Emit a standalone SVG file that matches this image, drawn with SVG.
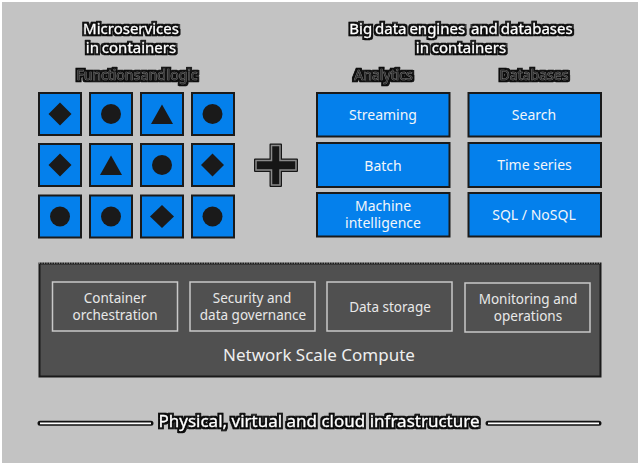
<svg xmlns="http://www.w3.org/2000/svg" width="640" height="468" viewBox="0 0 640 468">
<defs>
<filter id="halo1" x="-10%" y="-40%" width="120%" height="180%" color-interpolation-filters="sRGB">
<feMorphology in="SourceAlpha" operator="dilate" radius="1.500" result="b"/>
<feFlood flood-color="#0c0c0c"/><feComposite in2="b" operator="in" result="k"/>
<feMerge><feMergeNode in="k"/><feMergeNode in="SourceGraphic"/></feMerge>
</filter>
</defs>
<style>
text{font-family:"Noto Sans","Liberation Sans",sans-serif;text-anchor:middle}
.blue{fill:#0480ec;stroke:#1a1a1a;stroke-width:2}
.g{fill:#1a1a1a}
.t{font-size:14px;fill:#f2f6fa}
.w{font-size:13.500px;fill:#e8e8e8}
.in{fill:none;stroke:#c8c8c8;stroke-width:1.500}
.h1{font-size:15px;fill:#fff;stroke:#fff;stroke-width:.3px;filter:url(#halo1);word-spacing:-1px}
.h2{font-size:14px;fill:#333;stroke:#8a8a8a;stroke-width:.7px;paint-order:stroke;filter:url(#halo1);word-spacing:-3px}
</style>
<rect width="640" height="468" fill="#fff"/>
<rect x="2" y="2" width="636" height="461" fill="#c3c3c3"/>
<g id="heading-left">
<text class="h1" x="131" y="34">Microservices</text>
<text class="h1" x="131" y="53">in containers</text>
<text class="h2" x="137" y="80">Functions and logic</text>
</g>
<g id="heading-right">
<text class="h1" x="461" y="34" xml:space="preserve">Big data engines  and databases</text>
<text class="h1" x="461" y="53">in containers</text>
<text class="h2" x="383.500" y="80">Analytics</text>
<text class="h2" x="534" y="80">Databases</text>
</g>
<g id="functions">
<g id="f1"><rect class="blue" x="39" y="93" width="42" height="42"/><path class="g" d="M60 102.500 71.500 114 60 125.500 48.500 114z"/></g>
<g id="f2"><rect class="blue" x="90" y="93" width="42" height="42"/><circle class="g" cx="111" cy="114" r="10"/></g>
<g id="f3"><rect class="blue" x="141" y="93" width="42" height="42"/><path class="g" d="M162 104.500 173 124 151 124z"/></g>
<g id="f4"><rect class="blue" x="192" y="93" width="42" height="42"/><circle class="g" cx="212.500" cy="114" r="10"/></g>
<g id="f5"><rect class="blue" x="39" y="144" width="42" height="42"/><path class="g" d="M60 153.500 71.500 165 60 176.500 48.500 165z"/></g>
<g id="f6"><rect class="blue" x="90" y="144" width="42" height="42"/><path class="g" d="M111 155.500 122 175 100 175z"/></g>
<g id="f7"><rect class="blue" x="141" y="144" width="42" height="42"/><circle class="g" cx="162" cy="165" r="10"/></g>
<g id="f8"><rect class="blue" x="192" y="144" width="42" height="42"/><path class="g" d="M212.500 153.500 224 165 212.500 176.500 201 165z"/></g>
<g id="f9"><rect class="blue" x="39" y="195.500" width="42" height="42"/><circle class="g" cx="60" cy="216.500" r="10"/></g>
<g id="f10"><rect class="blue" x="90" y="195.500" width="42" height="42"/><circle class="g" cx="111" cy="216.500" r="10"/></g>
<g id="f11"><rect class="blue" x="141" y="195.500" width="42" height="42"/><path class="g" d="M162 205 174 216.500 162 228 150 216.500z"/></g>
<g id="f12"><rect class="blue" x="192" y="195.500" width="42" height="42"/><circle class="g" cx="212.500" cy="216.500" r="10"/></g>
</g>
<g id="plus">
<path d="M270.500 144.500H281V159.500H297V171H281V186H270.500V171H255V159.500H270.500z" fill="#161616" stroke="#161616" stroke-width="2" stroke-linejoin="round"/>
<path d="M271.500 145.500H280V160.500H296V170H280V185H271.500V170H256V160.500H271.500z" fill="#161616" stroke="#8a8a8a" stroke-width="1.500"/>
</g>
<g id="streaming"><rect class="blue" x="317" y="93" width="132.500" height="43.500"/><text class="t" x="383" y="120">Streaming</text></g>
<g id="batch"><rect class="blue" x="317" y="143" width="132.500" height="44"/><text class="t" x="383" y="171">Batch</text></g>
<g id="ml"><rect class="blue" x="317" y="193" width="132.500" height="43.500"/><text class="t" x="383" y="210.500">Machine</text><text class="t" x="383" y="228">intelligence</text></g>
<g id="search"><rect class="blue" x="468.500" y="93" width="132.500" height="43.500"/><text class="t" x="534" y="120">Search</text></g>
<g id="timeseries"><rect class="blue" x="468.500" y="143" width="132.500" height="44"/><text class="t" x="534.500" y="170">Time series</text></g>
<g id="sql"><rect class="blue" x="468.500" y="193" width="132.500" height="43.500"/><text class="t" x="534" y="220">SQL / NoSQL</text></g>
<g id="network-scale-compute">
<rect x="39.500" y="263.500" width="561" height="113" fill="#505050" stroke="#1a1a1a" stroke-width="2"/>
<path d="M39 263H600" stroke="#c3c3c3" stroke-width="1" stroke-dasharray="1 1.500"/>
<text x="319" y="361" font-size="17" fill="#eee">Network Scale Compute</text>
</g>
<g id="orchestration"><rect class="in" x="52.500" y="282" width="125" height="49"/><text class="w" x="115" y="303">Container</text><text class="w" x="115" y="320">orchestration</text></g>
<g id="security"><rect class="in" x="190" y="282" width="125" height="49"/><text class="w" x="252" y="303">Security and</text><text class="w" x="253" y="320">data governance</text></g>
<g id="storage"><rect class="in" x="327" y="282" width="125" height="49"/><text class="w" x="390" y="312">Data storage</text></g>
<g id="monitoring"><rect class="in" x="465" y="283" width="125" height="49"/><text class="w" x="528" y="304">Monitoring and</text><text class="w" x="528" y="321">operations</text></g>
<g id="infrastructure">
<path d="M40 423.300H151M488 423.300H599" stroke="#111" stroke-width="5" stroke-linecap="round"/>
<path d="M40 423.300H151M488 423.300H599" stroke="#fff" stroke-width="1.800"/>
<text class="h1" x="319" y="427" style="font-size:17px;word-spacing:0">Physical, virtual and cloud infrastructure</text>
</g>
</svg>
